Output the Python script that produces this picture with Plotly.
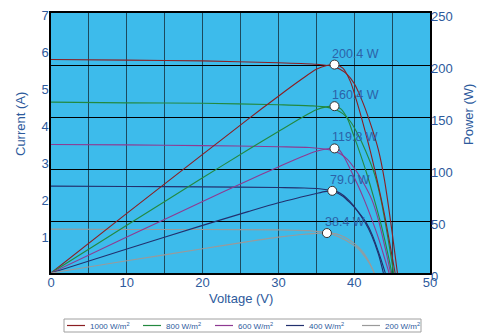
import plotly.graph_objects as go

# ---- data ----
irradiance_labels = ["1000 W/m<sup>2</sup>", "800 W/m<sup>2</sup>", "600 W/m<sup>2</sup>",
                     "400 W/m<sup>2</sup>", "200 W/m<sup>2</sup>"]
colors = ["#8B1E22", "#23893F", "#8E3A92", "#22306E", "#9A9A9A"]

# I-V curves (voltage V, current A)
v_i_1000 = [0, 10, 20, 30, 35, 37, 38, 39, 40, 41, 42, 43.2, 44, 45, 45.7]
i_1000 = [5.75, 5.73, 5.71, 5.66, 5.62, 5.57, 5.5, 5.36, 5.1, 4.66, 4.11, 3.31, 2.5, 1.1, 0]
v_i_800 = [0, 10, 20, 30, 34.5, 36.5, 37.5, 38.5, 39.5, 40.5, 41.5, 42.7, 43.5, 44.5, 45.2]
i_800 = [4.6, 4.58, 4.57, 4.53, 4.5, 4.46, 4.4, 4.29, 4.08, 3.73, 3.29, 2.65, 2.0, 0.88, 0]
v_i_600 = [0, 10, 20, 30, 34.1, 36.1, 37.1, 38.1, 39.1, 40.1, 41.1, 42.3, 43.1, 44.1, 44.8]
i_600 = [3.46, 3.45, 3.43, 3.4, 3.38, 3.34, 3.3, 3.22, 3.06, 2.8, 2.47, 1.99, 1.5, 0.66, 0]
v_i_400 = [0, 10, 20, 30, 33.4, 35.4, 36.4, 37.4, 38.4, 39.4, 40.4, 41.6, 42.4, 43.4, 44.1]
i_400 = [2.34, 2.33, 2.32, 2.3, 2.29, 2.27, 2.24, 2.19, 2.08, 1.9, 1.68, 1.35, 1.02, 0.45, 0]
v_i_200 = [0, 10, 20, 30, 32, 34, 35, 36, 37, 38, 39, 40.2, 41, 42, 42.65]
i_200 = [1.18, 1.17, 1.17, 1.16, 1.15, 1.14, 1.12, 1.1, 1.05, 0.97, 0.87, 0.71, 0.55, 0.26, 0]

# P-V curves (voltage V, power W)
v_p_1000 = [0, 10, 20, 26, 30, 33, 35, 36.5, 37.4, 38.5, 39.5, 40.3, 41.2, 42.1, 43, 44, 45, 45.4]
p_1000 = [0, 57.3, 114, 148, 170, 186, 196, 199.8, 200.4, 197, 184, 166, 143, 118, 90, 56, 16, 0]
v_p_800 = [0, 10, 20, 26, 30, 33, 35, 36.5, 37.4, 38.2, 39.1, 39.9, 40.8, 41.7, 42.6, 43.6, 44.6, 44.95]
p_800 = [0, 45.9, 91.5, 118.5, 136, 149, 157, 160, 160.4, 158, 148.5, 133, 114.5, 94.5, 72, 45, 13, 0]
v_p_600 = [0, 10, 20, 26, 30, 33, 35, 36.5, 37.4, 38, 38.7, 39.5, 40.4, 41.3, 42.2, 43.2, 44.2, 44.6]
p_600 = [0, 34.5, 68.8, 89, 102, 111.5, 117, 119.5, 119.8, 118.5, 111, 99.6, 85.8, 70.8, 54, 33.6, 9.6, 0]
v_p_400 = [0, 10, 20, 26, 30, 33, 35, 36.3, 37.1, 37.8, 38.6, 39.4, 40.3, 41.4, 42.3, 43.2, 43.85]
p_400 = [0, 23, 45.8, 59, 67.5, 73, 76.5, 78.5, 79, 78, 74.5, 69, 61, 49, 36, 18, 0]
v_p_200 = [0, 10, 20, 26, 30, 33, 35, 36.4, 37.2, 38, 39, 40, 41, 41.8, 42.65]
p_200 = [0, 11.7, 23.3, 30.2, 34.5, 37, 38.1, 38.4, 38.1, 36.8, 33.5, 28.5, 21.5, 13, 0]

# maximum power points
mpp_v = [37.4, 37.4, 37.4, 37.1, 36.4]
mpp_p = [200.4, 160.4, 119.8, 79.0, 38.4]

x_ticks = [0, 10, 20, 30, 40, 50]
current_ticks = [1, 2, 3, 4, 5, 6, 7]
power_ticks = [0, 50, 100, 150, 200, 250]

iv_sets = [(v_i_1000, i_1000), (v_i_800, i_800), (v_i_600, i_600), (v_i_400, i_400), (v_i_200, i_200)]
pv_sets = [(v_p_1000, p_1000), (v_p_800, p_800), (v_p_600, p_600), (v_p_400, p_400), (v_p_200, p_200)]

TXT = "#2D5A9C"
FONT = "Arial, Liberation Sans, sans-serif"

W, H = 478, 335
ML, MR, MT, MB = 51, 48, 13, 62
PW, PH = W - ML - MR, H - MT - MB


def px_x(px):
    return (px - ML) / PW


def px_y(py):
    return (H - MB - py) / PH


fig = go.Figure()
for k in range(5):
    vv, ii = iv_sets[k]
    fig.add_trace(go.Scatter(x=vv, y=ii, mode="lines", name=irradiance_labels[k],
                             legendgroup=str(k), showlegend=False,
                             line=dict(color=colors[k], width=1.1, shape="spline", smoothing=0.8),
                             yaxis="y", hoverinfo="skip"))
    vp, pp = pv_sets[k]
    fig.add_trace(go.Scatter(x=vp, y=pp, mode="lines", name=irradiance_labels[k],
                             legendgroup=str(k), showlegend=False,
                             line=dict(color=colors[k], width=1.1, shape="spline", smoothing=0.8),
                             yaxis="y2", hoverinfo="skip"))

fig.add_trace(go.Scatter(x=mpp_v, y=mpp_p, mode="markers", yaxis="y2", showlegend=False,
                         marker=dict(size=9, color="white", line=dict(color="#333333", width=1)),
                         hoverinfo="skip"))

for v, p in zip(mpp_v, mpp_p):
    fig.add_annotation(x=v, y=p, xref="x", yref="y2", text=f"{p:.1f} W", showarrow=False,
                       xanchor="left", yanchor="bottom", xshift=-4, yshift=2,
                       font=dict(family=FONT, size=12.5, color="#2C62A8"))

# axis titles
fig.add_annotation(x=px_x(20), y=px_y(124), xref="paper", yref="paper", text="Current (A)",
                   textangle=-90, showarrow=False, xanchor="center", yanchor="middle",
                   font=dict(family=FONT, size=13, color=TXT))
fig.add_annotation(x=px_x(468), y=px_y(115), xref="paper", yref="paper", text="Power (W)",
                   textangle=-90, showarrow=False, xanchor="center", yanchor="middle",
                   font=dict(family=FONT, size=13, color=TXT))
fig.add_annotation(x=0.5, y=px_y(298), xref="paper", yref="paper", text="Voltage (V)",
                   showarrow=False, xanchor="center", yanchor="middle",
                   font=dict(family=FONT, size=13, color=TXT))

# legend box drawn below the plot
legend_line_px = [67, 143, 215, 286, 362]
fig.add_shape(type="rect", xref="paper", yref="paper",
              x0=px_x(64), x1=px_x(421), y0=px_y(332), y1=px_y(319),
              line=dict(color="#A0A0A0", width=1), fillcolor="white", layer="above")
for k in range(5):
    lx = legend_line_px[k]
    fig.add_shape(type="line", xref="paper", yref="paper",
                  x0=px_x(lx), x1=px_x(lx + 18), y0=px_y(325.5), y1=px_y(325.5),
                  line=dict(color=colors[k], width=1.2), layer="above")
    fig.add_annotation(x=px_x(lx + 21), y=px_y(325.5), xref="paper", yref="paper",
                       text=irradiance_labels[k], showarrow=False,
                       xanchor="left", yanchor="middle",
                       font=dict(family=FONT, size=8, color=TXT))

fig.update_layout(
    width=W, height=H,
    margin=dict(l=ML, r=MR, t=MT, b=MB, autoexpand=False),
    paper_bgcolor="white",
    plot_bgcolor="#3DBBEB",
    font=dict(family=FONT, color=TXT),
    showlegend=False,
    xaxis=dict(range=[0, 50], tickvals=x_ticks, showgrid=True, gridcolor="#1C4A5E", gridwidth=1,
               minor=dict(dtick=5, tick0=0, showgrid=True, gridcolor="#1C4A5E", gridwidth=1),
               showline=True, linecolor="black", linewidth=1.5, mirror=True,
               zeroline=False, ticks="", tickfont=dict(size=13, color=TXT), automargin=False,
               ticklabelstandoff=-3),
    yaxis=dict(range=[0, 7], tickvals=current_ticks, showgrid=False, zeroline=False,
               showline=True, linecolor="black", linewidth=1.5, mirror=True,
               ticks="", tickfont=dict(size=13, color=TXT), automargin=False,
               ticklabelstandoff=-2, ticklabelshift=2),
    yaxis2=dict(range=[0, 250], tickvals=power_ticks, overlaying="y", side="right",
                showgrid=True, gridcolor="black", gridwidth=1, zeroline=False,
                ticks="", tickfont=dict(size=13, color=TXT), automargin=False,
                ticklabelshift=3),
)

fig.write_html("out.html", config={"displayModeBar": False},
               post_script="document.body.style.margin='0';")
